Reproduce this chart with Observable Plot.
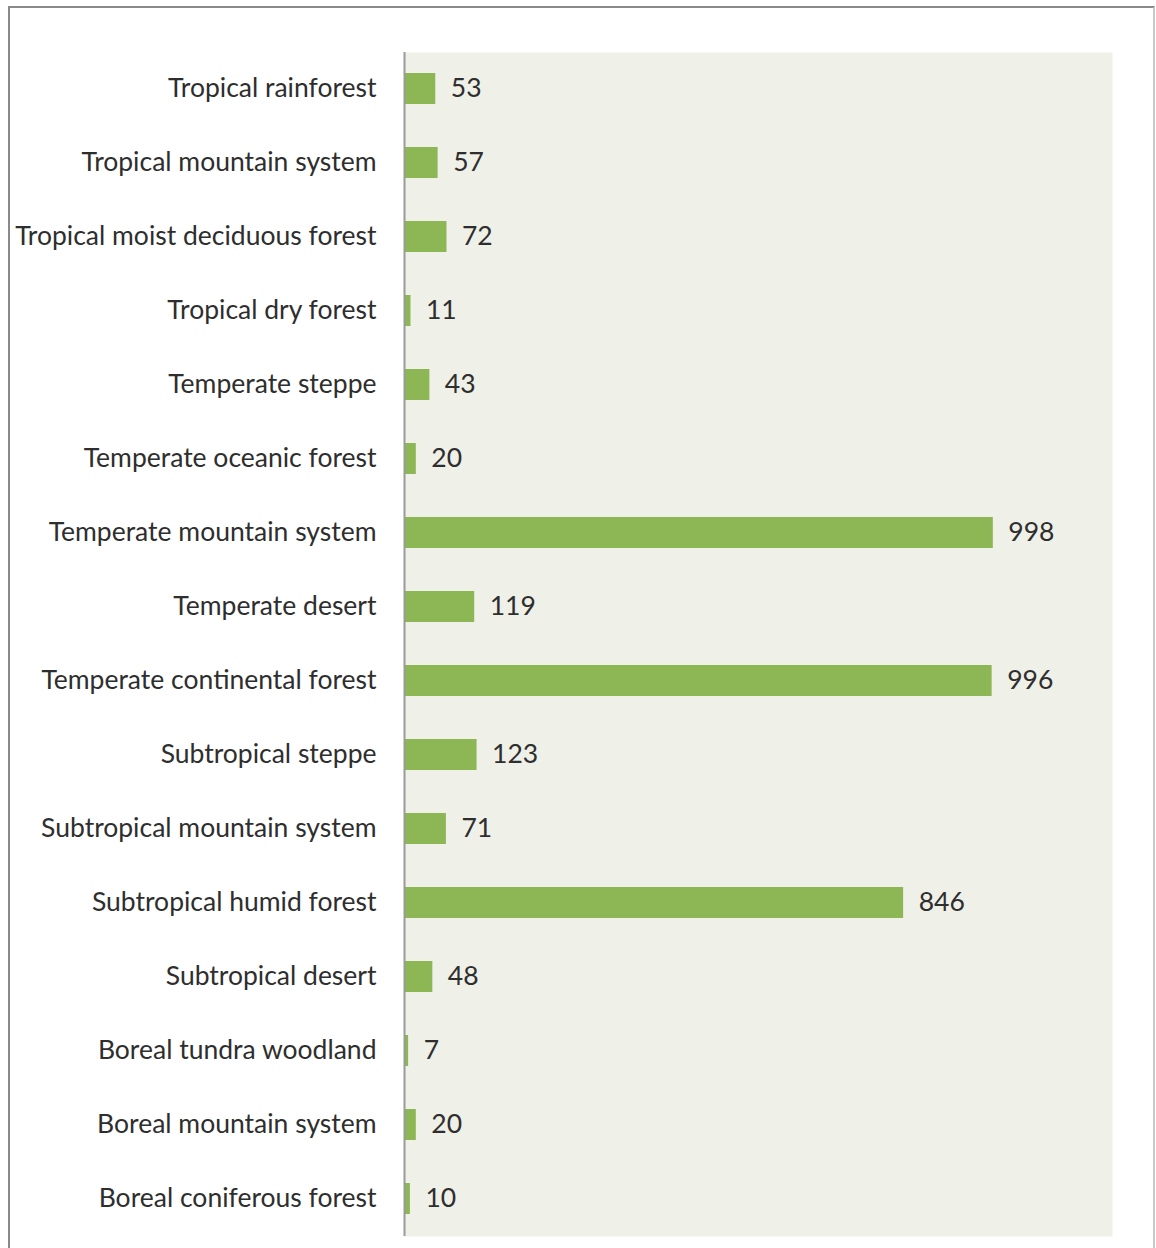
<!DOCTYPE html>
<html>
<head>
<meta charset="utf-8">
<script src="https://cdn.jsdelivr.net/npm/d3@7"></script>
<script src="https://cdn.jsdelivr.net/npm/@observablehq/plot@0.6"></script>
<style>
  html, body { margin: 0; padding: 0; background: #ffffff; }
  #wrap { position: relative; width: 1156px; height: 1248px; }
  #wrap svg { position: absolute; left: 0; top: 0; }
  #border {
    position: absolute; left: 8px; top: 6px; width: 1147px; height: 1242px;
    border-left: 2px solid #8a8a8a; border-top: 2px solid #8a8a8a; border-right: 2px solid #c8c8c8;
    box-sizing: border-box; pointer-events: none;
  }
</style>
</head>
<body>
<div id="wrap"><div id="border"></div></div>
<script>
// Forest ecological zones, top to bottom
const zones = [
  "Tropical rainforest",
  "Tropical mountain system",
  "Tropical moist deciduous forest",
  "Tropical dry forest",
  "Temperate steppe",
  "Temperate oceanic forest",
  "Temperate mountain system",
  "Temperate desert",
  "Temperate continental forest",
  "Subtropical steppe",
  "Subtropical mountain system",
  "Subtropical humid forest",
  "Subtropical desert",
  "Boreal tundra woodland",
  "Boreal mountain system",
  "Boreal coniferous forest"
];
const counts = [53, 57, 72, 11, 43, 20, 998, 119, 996, 123, 71, 846, 48, 7, 20, 10];

const rows = zones.map((zone, i) => ({zone, count: counts[i]}));

const font = "Lato, 'Open Sans', sans-serif";
const textColor = "#2e2e2e";

const chart = Plot.plot({
  width: 1156,
  height: 1248,
  marginLeft: 404,
  marginTop: 52,
  marginRight: 44,
  marginBottom: 12,
  style: {fontFamily: font, fontSize: "26.5px", color: textColor, background: "transparent"},
  x: {domain: [0, 1200], axis: null},
  y: {domain: zones, paddingInner: 0.58, paddingOuter: 0.29, label: null},
  marks: [
    Plot.frame({fill: "#eff0e8", stroke: null}),
    Plot.barX(rows, {x: "count", y: "zone", fill: "#8db654"}),
    Plot.ruleX([0], {stroke: "#9a9a9a", strokeWidth: 2}),
    Plot.text(rows, {x: "count", y: "zone", text: d => String(d.count), textAnchor: "start", dx: 15, fontSize: 26.5, fill: textColor}),
    Plot.axisY({tickSize: 0, tickPadding: 28, fontSize: 26.5, label: null, fill: textColor})
  ]
});

document.getElementById("wrap").prepend(chart);
</script>
</body>
</html>
